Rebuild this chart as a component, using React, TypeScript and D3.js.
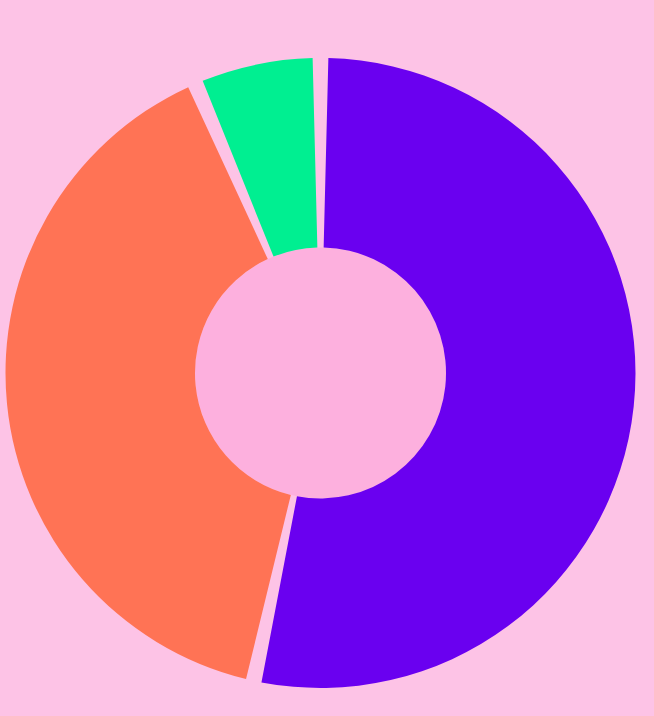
import React, { useEffect, useRef } from "react";
import * as d3 from "d3";

const categories = ["Purple", "Orange", "Green"];
const values = [53.4, 40.1, 6.5];
const colors = ["#6a00f0", "#ff7355", "#00ef91"];

const width = 654;
const height = 716;

export default function App() {
  const svgRef = useRef<SVGSVGElement>(null);

  useEffect(() => {
    const svg = d3.select(svgRef.current);
    svg.selectAll("*").remove();

    const cx = 320.5;
    const cy = 373;
    const outer = 315;
    const inner = 125.5;
    const gap = 0.05; // angular gap between slices, radians

    svg.append("rect").attr("width", width).attr("height", height).attr("fill", "#fdc3e6");

    const g = svg.append("g").attr("transform", `translate(${cx},${cy})`);

    // hole
    g.append("circle").attr("r", inner).attr("fill", "#fdb0de");

    const pie = d3
      .pie<number>()
      .sort(null)
      .value((d) => d);

    const arc = d3.arc<d3.PieArcDatum<number>>().innerRadius(inner).outerRadius(outer);

    const arcs = pie(values);

    g.selectAll("path.slice")
      .data(arcs)
      .enter()
      .append("path")
      .attr("class", "slice")
      // wedge-shaped gaps: shrink by angle instead of using parallel padding
      .attr("d", (d) =>
        arc({ ...d, startAngle: d.startAngle + gap / 2, endAngle: d.endAngle - gap / 2 })
      )
      .attr("fill", (d, i) => colors[i])
      .append("title")
      .text((d, i) => `${categories[i]}: ${values[i]}`);
  }, []);

  return (
    <svg
      ref={svgRef}
      width={width}
      height={height}
      style={{ position: "absolute", left: 0, top: 0, display: "block" }}
    />
  );
}
